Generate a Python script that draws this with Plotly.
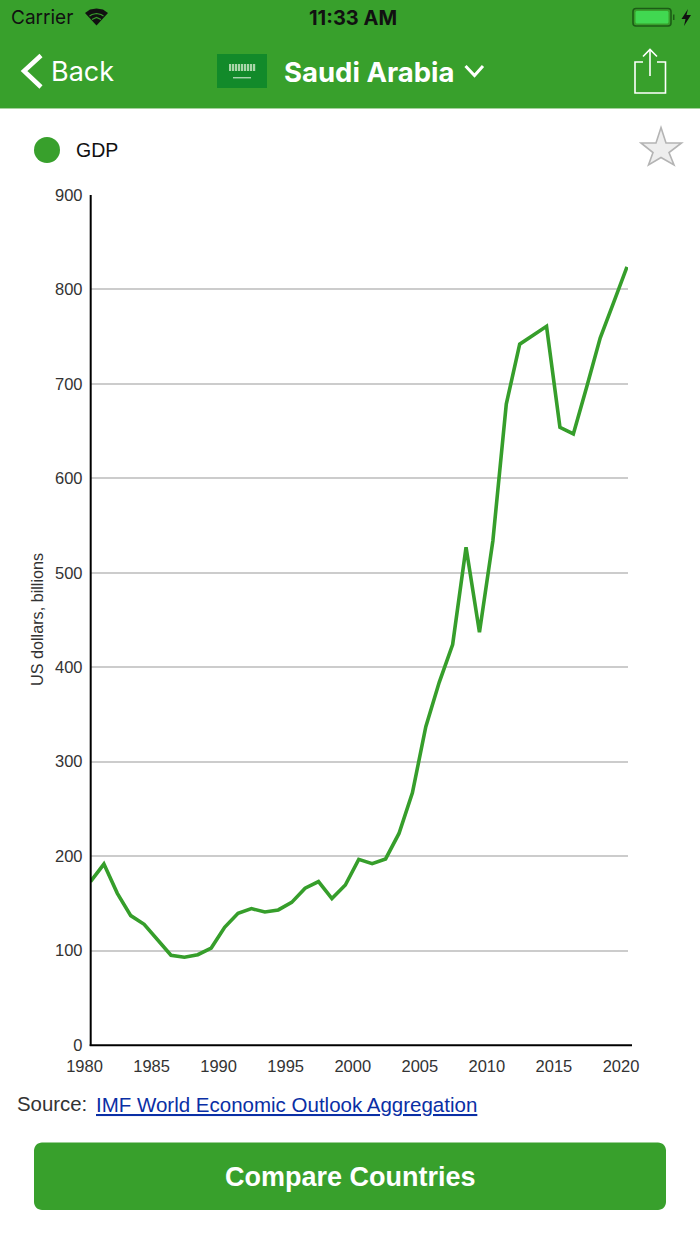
import plotly.graph_objects as go

years = list(range(1980, 2021))
gdp = [173, 191.6, 160.6, 137, 127.8, 111, 95, 93, 95.6, 102.7,
       124.6, 139.4, 144.4, 140.8, 143, 151, 166, 173, 155, 169.4,
       196.6, 192, 197, 224, 267, 337, 384, 424, 527, 437,
       534, 678.7, 742, 751.5, 761, 654, 647, 697, 748.6, 786, 824]
x_ticks = list(range(1980, 2021, 5))
y_ticks = list(range(0, 901, 100))

W, H = 700, 1244
GREEN = "#38a02c"
LINE_GREEN = "#369e2b"
X0, X1, Y0, Y1 = 90.5, 628, 195, 1045
SANS = "Liberation Sans, Arial, sans-serif"
UI = "Inter, Roboto, sans-serif"


def px(x):
    return x / W


def py(y):
    return 1 - y / H


def path(points, close=False):
    d = "M " + " L ".join(f"{px(a):.5f},{py(b):.5f}" for a, b in points)
    return d + (" Z" if close else "")


shapes = []


def rect(x0, y0, x1, y1, fill, line=None, lw=0, layer="above"):
    shapes.append(dict(type="rect", xref="paper", yref="paper", x0=px(x0), x1=px(x1),
                       y0=py(y0), y1=py(y1), fillcolor=fill,
                       line=dict(color=line or fill, width=lw), layer=layer))


def poly(points, fill="rgba(0,0,0,0)", line="rgba(0,0,0,0)", lw=0, close=True):
    shapes.append(dict(type="path", xref="paper", yref="paper", path=path(points, close),
                       fillcolor=fill, line=dict(color=line, width=lw), layer="above"))


def rounded(x0, y0, x1, y1, r, fill, line="rgba(0,0,0,0)", lw=0):
    k = 0.45 * r
    d = (f"M {px(x0+r)},{py(y0)} L {px(x1-r)},{py(y0)} "
         f"C {px(x1-k)},{py(y0)} {px(x1)},{py(y0+k)} {px(x1)},{py(y0+r)} "
         f"L {px(x1)},{py(y1-r)} C {px(x1)},{py(y1-k)} {px(x1-k)},{py(y1)} {px(x1-r)},{py(y1)} "
         f"L {px(x0+r)},{py(y1)} C {px(x0+k)},{py(y1)} {px(x0)},{py(y1-k)} {px(x0)},{py(y1-r)} "
         f"L {px(x0)},{py(y0+r)} C {px(x0)},{py(y0+k)} {px(x0+k)},{py(y0)} {px(x0+r)},{py(y0)} Z")
    shapes.append(dict(type="path", xref="paper", yref="paper", path=d, fillcolor=fill,
                       line=dict(color=line, width=lw), layer="above"))


annotations = []


def text(x, y, s, size, color, anchor="center", family=SANS, angle=0):
    annotations.append(dict(xref="paper", yref="paper", x=px(x), y=py(y), text=s,
                            showarrow=False, xanchor=anchor, yanchor="middle",
                            textangle=angle, borderpad=0, borderwidth=0,
                            font=dict(family=family, size=size, color=color)))


# Header
rect(0, 0, 700, 108, GREEN)
rect(0, 108, 700, 109, "#a6d19f")
# Status bar
text(11, 18, "Carrier", 19, "#111111", "left", UI)
text(353, 18, "<b>11:33 AM</b>", 20, "#111111", "center", UI)
# Wifi
poly([(85, 13), (90, 9.5), (96.5, 8.5), (103, 9.5), (108, 13), (96.5, 25.5)], fill="#111111")
poly([(89.5, 16), (92, 14.5), (96.5, 13.5), (101, 14.5), (103.5, 16)], line=GREEN, lw=1.2, close=False)
poly([(92, 19.5), (96.5, 17.5), (101, 19.5)], line=GREEN, lw=1.2, close=False)
# Battery
rounded(633, 8.5, 671, 26, 3, "rgba(0,0,0,0)", "#1c5c16", 1.6)
rounded(635.5, 11, 668.5, 23.5, 1.5, "#41d851")
rect(673, 14.5, 674.5, 20, "#1c5c16")
poly([(688, 9), (681.5, 19), (685.5, 19), (684, 26), (691, 15), (686.5, 15)], fill="#111111")
# Back
poly([(41, 55.5), (24, 71), (41, 87)], line="white", lw=4.5, close=False)
text(51, 72, "Back", 27, "white", "left", UI)
# Flag
rect(217, 54, 267, 88, "#128a2a")
for fx in range(229, 254, 3):
    rect(fx, 64, fx + 2.2, 71, "#a9d6a9")
rect(233, 77.3, 251, 78.3, "#e6f3e6")
# Title
text(284, 72, "<b>Saudi Arabia</b>", 27.5, "white", "left", UI)
poly([(465.5, 66), (474.5, 75.5), (483, 66)], line="white", lw=3, close=False)
# Share icon
poly([(643, 62), (635, 62), (635, 93), (665.5, 93), (665.5, 62), (657, 62)], line="white", lw=1.6, close=False)
poly([(650, 50), (650, 76)], line="white", lw=1.6, close=False)
poly([(643, 56.5), (650, 49.5), (657, 56.5)], line="white", lw=1.6, close=False)
# Legend
shapes.append(dict(type="circle", xref="paper", yref="paper", x0=px(34), x1=px(60), y0=py(163), y1=py(137),
                   fillcolor=GREEN, line=dict(width=0)))
text(76, 149.5, "GDP", 19.5, "#111111", "left")
# Star
poly([(661, 127.5), (666, 143), (681.5, 143), (669, 152.5), (674, 165), (661, 157.5),
      (648.5, 165), (653, 152.5), (641, 143), (656, 143)], fill="#eeeeee", line="#b4b4b4", lw=1.6)
# Axis lines
poly([(89.7, 1045.2), (632, 1045.2)], line="black", lw=2, close=False)
poly([(90.7, 195), (90.7, 1046)], line="black", lw=2, close=False)
# Y title
text(37, 620, "US dollars, billions", 16.2, "#333333", "center", SANS, -90)
# Source
text(17, 1104, "Source:", 20.4, "#333333", "left")
text(96, 1104, "<u>IMF World Economic Outlook Aggregation</u>", 20.5, "#0a2fa5", "left")
# Button
rounded(34, 1142.5, 666, 1210, 8, GREEN)
text(350, 1177, "<b>Compare Countries</b>", 27, "white")

fig = go.Figure(go.Scatter(x=years, y=gdp, mode="lines", name="GDP", showlegend=False,
                           line=dict(color=LINE_GREEN, width=3.6), cliponaxis=False))
fig.update_layout(
    template="none", width=W, height=H, autosize=False, margin=dict(l=0, r=0, t=0, b=0, pad=0),
    paper_bgcolor="white", plot_bgcolor="white",
    shapes=shapes, annotations=annotations, font=dict(family=SANS),
)
fig.update_xaxes(domain=[px(X0), px(X1)], range=[1980, 1980 + 40 * (X1 - X0) / 536.5], automargin=False,
                 tickmode="array", tickvals=x_ticks, ticktext=[str(v) for v in x_ticks],
                 ticks="", showgrid=False, zeroline=False, showline=False,
                 tickfont=dict(size=16.5, color="#333333"), ticklabelshift=-6, ticklabelstandoff=9)
fig.update_yaxes(domain=[py(Y1), py(Y0)], range=[0, 900], automargin=False,
                 tickmode="array", tickvals=y_ticks, ticktext=[str(v) for v in y_ticks],
                 ticks="", showgrid=True, gridcolor="#cccccc", gridwidth=1.6, zeroline=False,
                 showline=False,
                 tickfont=dict(size=16.5, color="#333333"), ticklabelstandoff=7)
fig.write_html("out.html", config={"displayModeBar": False}, post_script="document.body.style.margin='0';")
